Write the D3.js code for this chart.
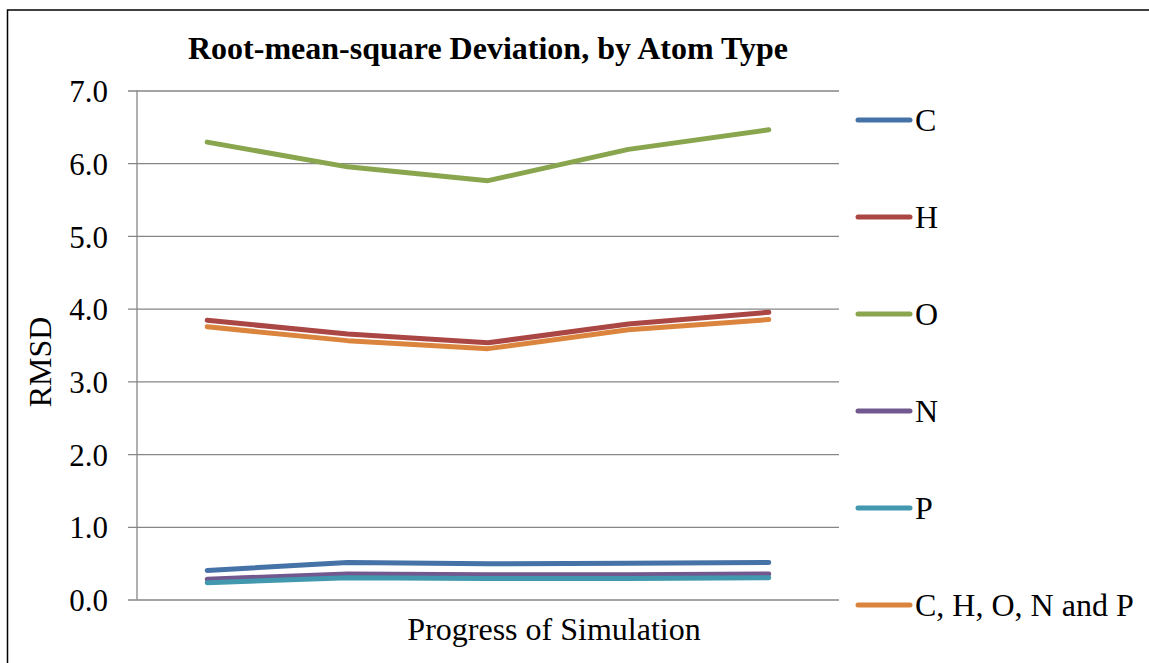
<!DOCTYPE html>
<html>
<head>
<meta charset="utf-8">
<script src="https://cdn.jsdelivr.net/npm/d3@7"></script>
<style>
  html, body { margin: 0; padding: 0; background: #fff; }
  svg { display: block; }
  svg text { font-family: "Liberation Serif", "Times New Roman", serif; }
</style>
</head>
<body>
<svg id="chart" width="1149" height="663"></svg>
<script>
// Simulation checkpoints (unlabelled categories along the x axis)
const steps = [1, 2, 3, 4, 5];

// RMSD per atom type at each checkpoint
const seriesNames = ["C", "H", "O", "N", "P", "C, H, O, N and P"];
const valuesC   = [0.40, 0.51, 0.49, 0.50, 0.51];
const valuesH   = [3.84, 3.65, 3.53, 3.79, 3.95];
const valuesO   = [6.29, 5.95, 5.76, 6.19, 6.46];
const valuesN   = [0.28, 0.35, 0.34, 0.34, 0.35];
const valuesP   = [0.23, 0.30, 0.29, 0.29, 0.30];
const valuesAll = [3.75, 3.56, 3.45, 3.71, 3.85];
const seriesColors = ["#4572A7", "#AA4643", "#89A54E", "#71588F", "#4198AF", "#DB843D"];

const yTicks = [0, 1, 2, 3, 4, 5, 6, 7];

const FONT = "Liberation Serif";

const series = seriesNames.map((name, i) => ({
  name,
  color: seriesColors[i],
  values: [valuesC, valuesH, valuesO, valuesN, valuesP, valuesAll][i]
}));

const svg = d3.select("#chart");

// Outer chart frame
svg.append("rect")
  .attr("x", 7.5).attr("y", 10)
  .attr("width", 1160).attr("height", 680)
  .attr("fill", "none").attr("stroke", "#000").attr("stroke-width", 1.5);

const plot = { left: 137, right: 839, top: 90.5, bottom: 599.5 };

const x = d3.scaleBand().domain(steps).range([plot.left, plot.right]);
const y = d3.scaleLinear().domain([0, 7]).range([plot.bottom, plot.top]);

// Horizontal gridlines with short left ticks
const yAxis = d3.axisLeft(y)
  .tickValues(yTicks)
  .tickSize(-(plot.right - plot.left))
  .tickPadding(29)
  .tickFormat(d3.format(".1f"));

const gy = svg.append("g")
  .attr("transform", `translate(${plot.left},0)`)
  .call(yAxis)
  .attr("font-family", FONT);
gy.select(".domain").remove();
gy.selectAll(".tick line")
  .attr("x1", -9)
  .attr("stroke", "#868686").attr("stroke-width", 1.3);
gy.selectAll(".tick text")
  .attr("fill", "#000")
  .attr("font-size", 31)
  .attr("font-family", FONT)
  .attr("dy", "0.36em");

// Vertical axis line
svg.append("line")
  .attr("x1", plot.left).attr("x2", plot.left)
  .attr("y1", plot.top).attr("y2", plot.bottom)
  .attr("stroke", "#868686").attr("stroke-width", 1.3);

// Series lines
const line = d3.line()
  .x((d, i) => x(steps[i]) + x.bandwidth() / 2)
  .y(d => y(d));

svg.append("g").selectAll("path")
  .data(series)
  .join("path")
  .attr("d", d => line(d.values))
  .attr("fill", "none")
  .attr("stroke", d => d.color)
  .attr("stroke-width", 5)
  .attr("stroke-linejoin", "round")
  .attr("stroke-linecap", "round");

// Title
svg.append("text")
  .attr("x", 488).attr("y", 59)
  .attr("text-anchor", "middle")
  .attr("font-family", FONT)
  .attr("font-size", 32)
  .attr("font-weight", "bold")
  .text("Root-mean-square Deviation, by Atom Type");

// Axis titles
svg.append("text")
  .attr("x", 554).attr("y", 640)
  .attr("text-anchor", "middle")
  .attr("font-family", FONT)
  .attr("font-size", 32)
  .text("Progress of Simulation");

svg.append("text")
  .attr("transform", "translate(51,362) rotate(-90)")
  .attr("text-anchor", "middle")
  .attr("font-family", FONT)
  .attr("font-size", 32)
  .text("RMSD");

// Legend
const legendY = d3.scalePoint().domain(seriesNames).range([120, 605]);
const lg = svg.append("g").selectAll("g")
  .data(series)
  .join("g")
  .attr("transform", d => `translate(0,${legendY(d.name)})`);
lg.append("line")
  .attr("x1", 858).attr("x2", 910)
  .attr("stroke", d => d.color)
  .attr("stroke-width", 5)
  .attr("stroke-linecap", "round");
lg.append("text")
  .attr("x", 915).attr("y", 0)
  .attr("dy", "0.35em")
  .attr("font-family", FONT)
  .attr("font-size", 32)
  .text(d => d.name);
</script>
</body>
</html>
